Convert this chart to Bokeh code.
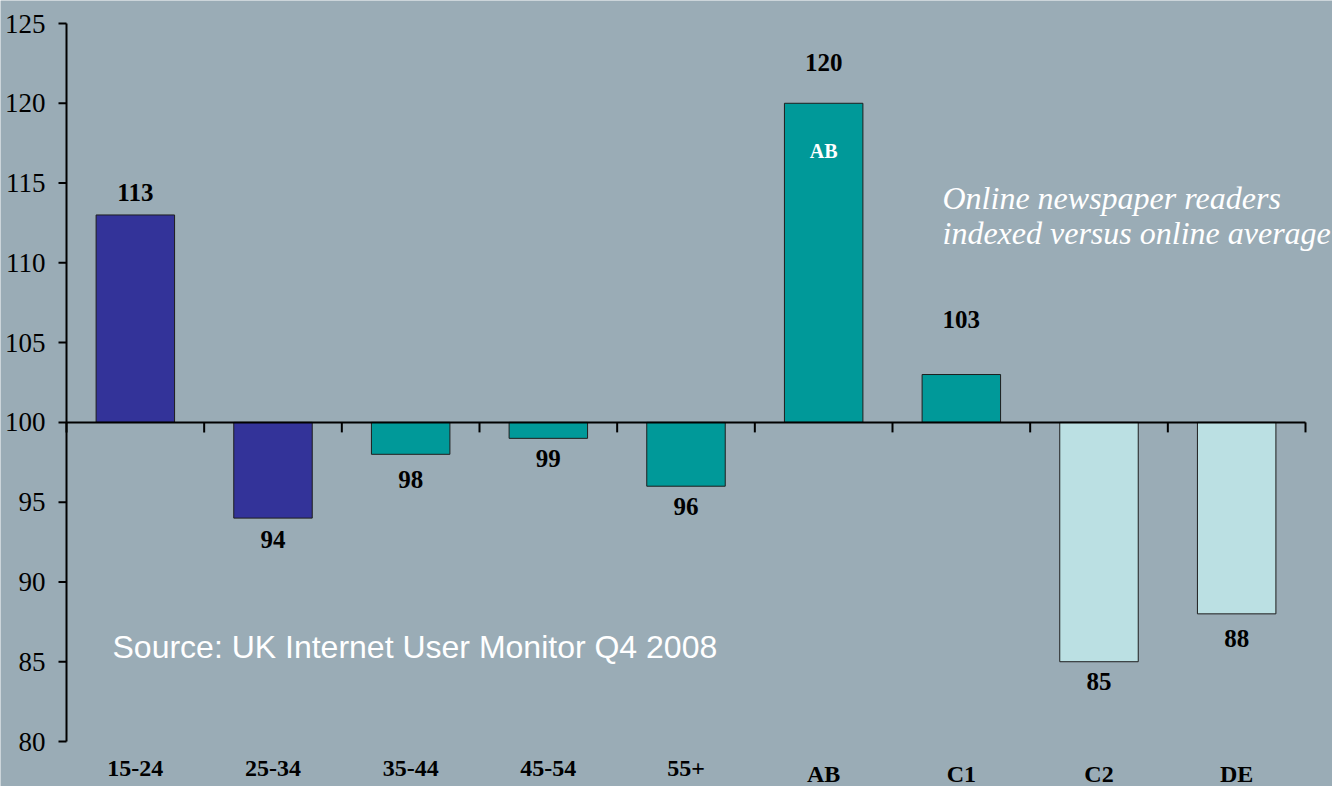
from bokeh.plotting import figure
from bokeh.models import Range1d, ColumnDataSource
from bokeh.core.properties import value
from bokeh.embed import file_html
from bokeh.resources import INLINE

# ---------------- data ----------------
categories = ["15-24", "25-34", "35-44", "45-54", "55+", "AB", "C1", "C2", "DE"]
index_values = [113, 94, 98, 99, 96, 120, 103, 85, 88]
bar_groups = ["age", "age", "mid", "mid", "mid", "mid", "mid", "low", "low"]
y_ticks = [80, 85, 90, 95, 100, 105, 110, 115, 120, 125]
baseline = 100
inner_label = "AB"
note_lines = ["Online newspaper readers", "indexed versus online average"]
source_text = "Source: UK Internet User Monitor Q4 2008"

# ---------------- layout / style ----------------
BG = "#9AACB6"
group_colors = {"age": "#333399", "mid": "#009999", "low": "#BBE0E3"}
label_gap_px = [22, 21, 25, 20, 20, 41, 55, 20, 25]   # distance of value label from bar end

W, H = 1332, 786
LEFT, TOP = 66, 23                 # pixel position of the plot origin area
px_per_unit = 718 / 45.0           # vertical pixels per index point
cat_px = 1239 / 9.0                # pixels per category
y_max = y_ticks[-1]
y_hi = y_max + TOP / px_per_unit
y_lo = y_max - (H - TOP) / px_per_unit
x_lo = -LEFT / cat_px
x_hi = (W - LEFT) / cat_px

p = figure(width=W, height=H, output_backend="svg", toolbar_location=None,
           x_range=Range1d(x_lo, x_hi), y_range=Range1d(y_lo, y_hi),
           min_border=0, x_axis_location=None, y_axis_location=None)
p.background_fill_color = BG
p.border_fill_color = BG
p.outline_line_color = None
p.xgrid.visible = False
p.ygrid.visible = False

n = len(categories)
centers = [i + 0.5 for i in range(n)]
colors = [group_colors[g] for g in bar_groups]
src = ColumnDataSource(dict(x=centers, top=index_values, cat=categories, color=colors,
                            lab=[str(v) for v in index_values],
                            base=[y_ticks[0]] * n,
                            yoff=[(-g if v >= baseline else g) for v, g in zip(index_values, label_gap_px)]))

# vertical value axis
ytick_len = 8 / cat_px
p.segment(x0=[0], y0=[y_ticks[0]], x1=[0], y1=[y_ticks[-1]], line_color="black", line_width=2)
p.segment(x0=[0] * len(y_ticks), y0=y_ticks, x1=[-ytick_len] * len(y_ticks), y1=y_ticks,
          line_color="black", line_width=2)
p.text(x=[0] * len(y_ticks), y=y_ticks, text=[str(t) for t in y_ticks], x_offset=-21,
       text_align="right", text_baseline="middle",
       text_font=value("Liberation Serif"), text_font_size="27px", text_color="black")

# bars
p.vbar(x="x", top="top", bottom=baseline, width=0.57, fill_color="color",
       line_color="#1E1E1E", line_width=1, source=src)

# horizontal axis at the baseline with downward ticks
p.segment(x0=[0], y0=[baseline], x1=[n], y1=[baseline], line_color="black", line_width=2)
tick_len = 10 / px_per_unit
p.segment(x0=list(range(n + 1)), y0=[baseline] * (n + 1), x1=list(range(n + 1)),
          y1=[baseline - tick_len] * (n + 1), line_color="black", line_width=2)

# value labels
p.text(x="x", y="top", text="lab", y_offset="yoff", source=src,
       text_align="center", text_baseline="middle",
       text_font=value("Liberation Serif"), text_font_style="bold",
       text_font_size="25px", text_color="black")

# label inside the AB bar
ab = categories.index(inner_label)
p.text(x=[centers[ab]], y=[index_values[ab]], text=[inner_label], y_offset=48,
       text_align="center", text_baseline="middle",
       text_font=value("Liberation Serif"), text_font_style="bold",
       text_font_size="20px", text_color="white")

# category labels
p.text(x="x", y="base", text="cat", y_offset=19, source=src,
       text_align="center", text_baseline="top",
       text_font=value("Liberation Serif"), text_font_style="bold",
       text_font_size="24px", text_color="black")

# note
note_x = (942 - LEFT) / cat_px
p.text(x=[note_x, note_x],
       y=[baseline + (422 - 198) / px_per_unit, baseline + (422 - 233) / px_per_unit],
       text=note_lines, text_align="left", text_baseline="alphabetic",
       text_font=value("Liberation Serif"), text_font_style="italic",
       text_font_size="32px", text_color="white")

# source
p.text(x=[(112 - LEFT) / cat_px], y=[baseline - (646.5 - 422) / px_per_unit],
       text=[source_text], text_align="left", text_baseline="middle",
       text_font=value("Liberation Sans"), text_font_size="32px", text_color="white")

html = file_html(p, INLINE)
html = html.replace("<body>", '<body style="background-color:%s;">' % BG, 1)
open("out.html", "w").write(html)
